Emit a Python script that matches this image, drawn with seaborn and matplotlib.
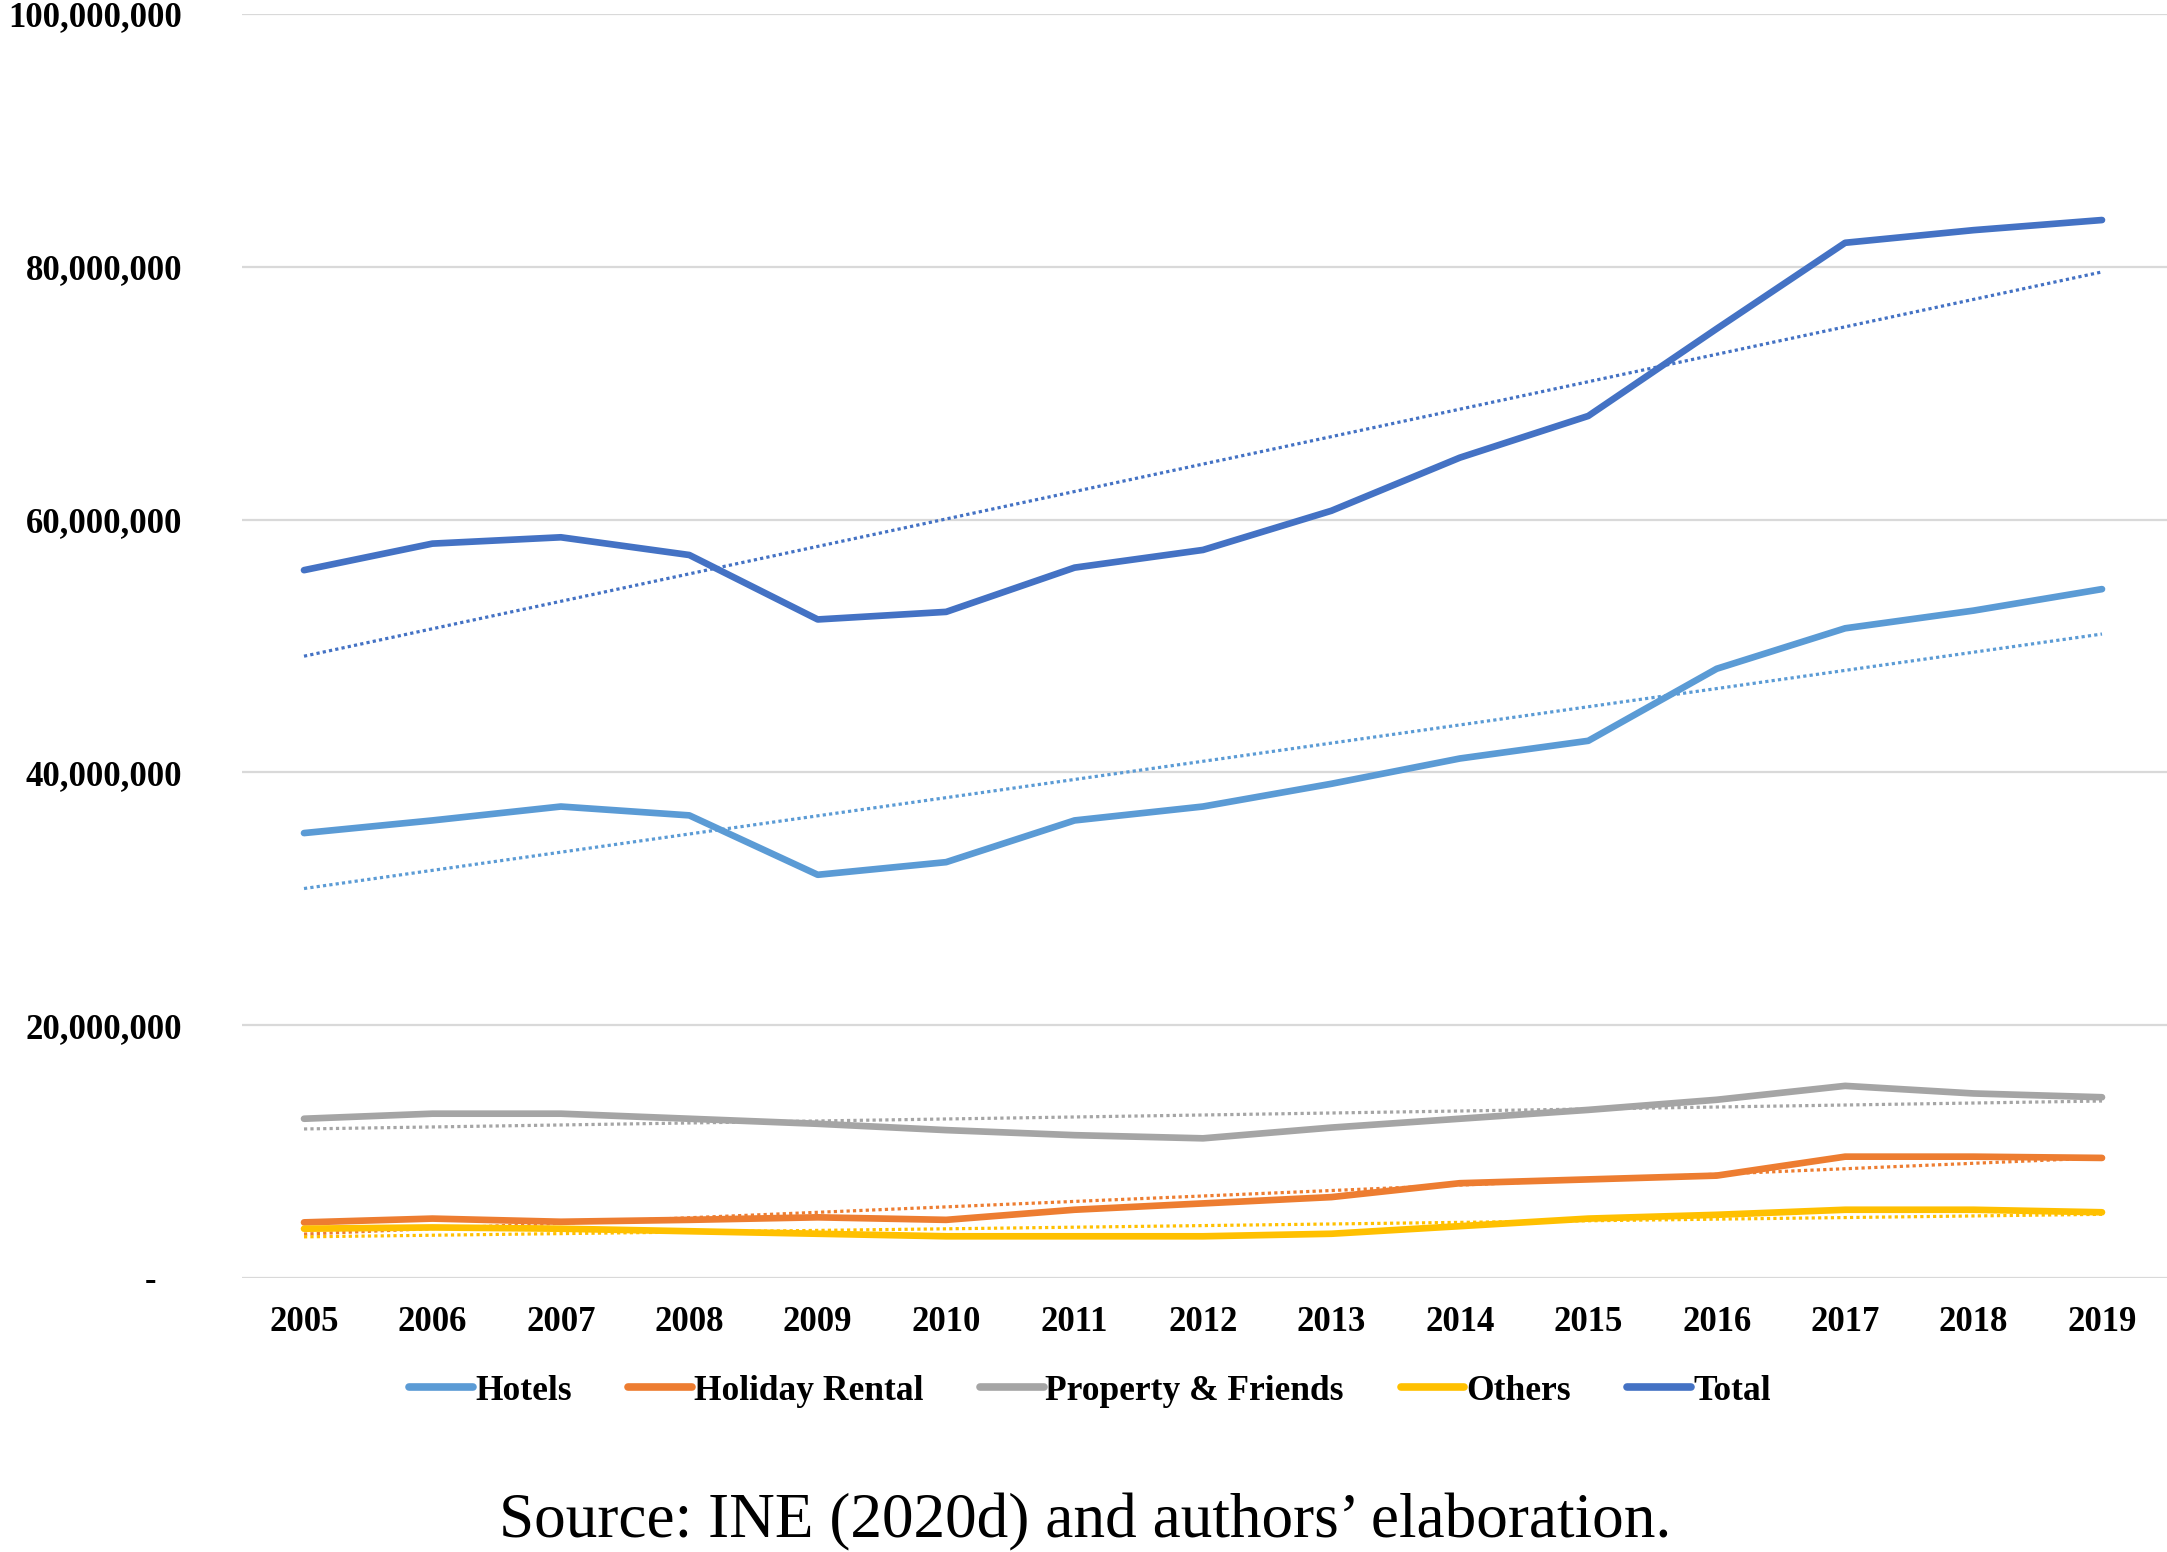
import matplotlib
matplotlib.use("Agg")
import matplotlib.pyplot as plt
import pandas as pd
import seaborn as sns

years = list(range(2005, 2020))
hotels = [35.2, 36.2, 37.3, 36.6, 31.9, 32.9, 36.2, 37.3, 39.1, 41.1, 42.5, 48.2, 51.4, 52.8, 54.5]
holiday_rental = [4.4, 4.7, 4.45, 4.6, 4.8, 4.6, 5.4, 5.9, 6.4, 7.5, 7.8, 8.1, 9.6, 9.6, 9.5]
property_friends = [12.6, 13.0, 13.0, 12.6, 12.2, 11.7, 11.3, 11.05, 11.9, 12.6, 13.3, 14.1, 15.2, 14.6, 14.3]
others = [3.9, 4.0, 3.9, 3.7, 3.5, 3.3, 3.3, 3.3, 3.5, 4.1, 4.7, 5.0, 5.4, 5.4, 5.2]
total = [56.0, 58.1, 58.6, 57.2, 52.1, 52.7, 56.2, 57.6, 60.7, 64.9, 68.2, 75.1, 81.9, 82.9, 83.7]

series_names = ["Hotels", "Holiday Rental", "Property & Friends", "Others", "Total"]
series_values = [hotels, holiday_rental, property_friends, others, total]
colors = ["#5B9BD5", "#ED7D31", "#A5A5A5", "#FFC000", "#4472C4"]
y_ticks = [0, 20_000_000, 40_000_000, 60_000_000, 80_000_000, 100_000_000]
y_tick_labels = ["-   ", "20,000,000", "40,000,000", "60,000,000", "80,000,000", "100,000,000"]

sns.set_style("white")
plt.rcParams["font.family"] = ["Liberation Serif", "DejaVu Serif"]
plt.rcParams["text.color"] = "black"
plt.rcParams["xtick.color"] = "black"
plt.rcParams["ytick.color"] = "black"

# long format, values in millions -> absolute counts
rows = []
for name, vals in zip(series_names, series_values):
    for yr, v in zip(years, vals):
        rows.append({"year": yr, "visitors": v * 1_000_000, "series": name})
df = pd.DataFrame(rows)

fig = plt.figure(figsize=(21.67, 15.52), dpi=100)
ax = fig.add_axes([242 / 2167, 1 - 1278 / 1552, 1 - 242 / 2167, (1278 - 14) / 1552])

# dotted linear trendlines (Excel style)
for name, color in zip(series_names, colors):
    sub = df[df["series"] == name]
    sns.regplot(data=sub, x="year", y="visitors", ci=None, scatter=False, ax=ax,
                line_kws={"color": color, "linestyle": (0, (1, 1)), "linewidth": 2.3})

sns.lineplot(data=df, x="year", y="visitors", hue="series", hue_order=series_names,
             palette=colors, linewidth=4.8, ax=ax, legend=False)

step = (2102 - 304) / 14
ax.set_ylim(0, 100_000_000)
ax.set_xlim(2005 - (304 - 242) / step, 2019 + (2167 - 2102) / step)
ax.set_yticks(y_ticks)
ax.set_yticklabels(y_tick_labels, fontsize=25, fontweight="bold")
ax.set_xticks(years)
ax.set_xticklabels([str(y) for y in years], fontsize=25, fontweight="bold")
ax.tick_params(axis="y", length=0, pad=43)
ax.tick_params(axis="x", length=0, pad=20)
ax.grid(axis="y", color="#D9D9D9", linewidth=1.6)
ax.grid(axis="x", visible=False)
for s in ax.spines.values():
    s.set_visible(False)
ax.set_xlabel("")
ax.set_ylabel("")

handles = [plt.Line2D([0], [0], color=c, linewidth=5.5) for c in colors]
fig.legend(handles, series_names, loc="center", bbox_to_anchor=(1090 / 2167, 1 - 1391 / 1552),
           ncol=5, frameon=False, handlelength=1.8, handletextpad=0.05, columnspacing=1.6,
           prop={"size": 25.5, "weight": "bold", "family": ["Liberation Serif"]})

fig.text(1085 / 2167, 1 - 1522 / 1552, "Source: INE (2020d) and authors\u2019 elaboration.",
         ha="center", va="center", fontsize=45.5)

fig.savefig("out.png", dpi=100)
